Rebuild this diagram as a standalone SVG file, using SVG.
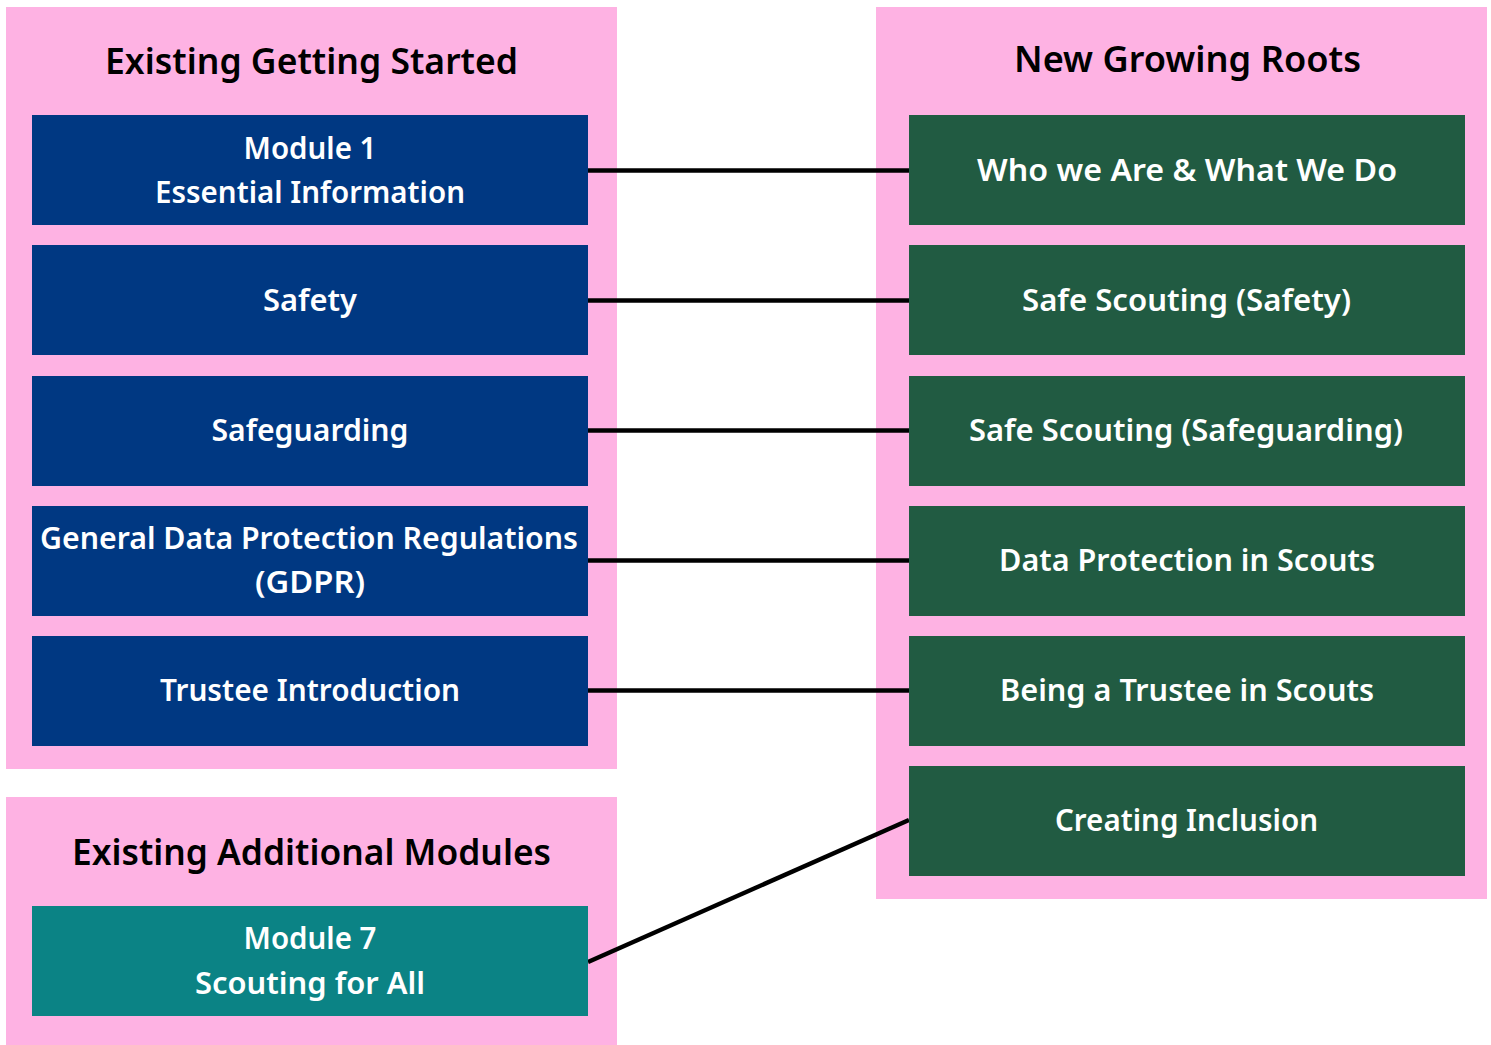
<svg xmlns="http://www.w3.org/2000/svg" width="1491" height="1045" viewBox="0 0 1491 1045">
<style>
.cont{fill:#feb2e3}
.title{font-family:"Noto Sans","Open Sans",sans-serif;font-weight:600;font-size:35.5px;fill:#000;text-anchor:middle}
.lbl{font-family:"Noto Sans","Open Sans",sans-serif;font-weight:600;font-size:30px;fill:#fff;text-anchor:middle}
.blue{fill:#003882}
.green{fill:#215b42}
.teal{fill:#0b8385}
.conn{stroke:#000;stroke-width:4.5;fill:none}
</style>
<rect width="1491" height="1045" fill="#fff"/>
<g id="group-existing-getting-started">
<rect class="cont" x="6" y="7" width="611" height="762"/>
<text class="title" x="311.5" y="74" textLength="413" lengthAdjust="spacingAndGlyphs">Existing Getting Started</text>
</g>
<g id="group-new-growing-roots">
<rect class="cont" x="876" y="7" width="611" height="892"/>
<text class="title" x="1187.5" y="72" textLength="347" lengthAdjust="spacingAndGlyphs">New Growing Roots</text>
</g>
<g id="group-existing-additional">
<rect class="cont" x="6" y="797" width="611" height="248"/>
<text class="title" x="311.5" y="865" textLength="479" lengthAdjust="spacingAndGlyphs">Existing Additional Modules</text>
</g>
<g id="connectors">
<line class="conn" x1="588" y1="170.5" x2="909" y2="170.5"/>
<line class="conn" x1="588" y1="300.5" x2="909" y2="300.5"/>
<line class="conn" x1="588" y1="430.5" x2="909" y2="430.5"/>
<line class="conn" x1="588" y1="560.5" x2="909" y2="560.5"/>
<line class="conn" x1="588" y1="690.5" x2="909" y2="690.5"/>
<line class="conn" x1="588" y1="962" x2="909" y2="820"/>
</g>
<g id="node-module1">
<rect class="blue" x="32" y="115" width="556" height="110"/>
<text class="lbl" x="310" y="159" textLength="133" lengthAdjust="spacingAndGlyphs">Module 1</text>
<text class="lbl" x="310" y="203" textLength="310" lengthAdjust="spacingAndGlyphs">Essential Information</text>
</g>
<g id="node-safety">
<rect class="blue" x="32" y="245" width="556" height="110"/>
<text class="lbl" x="310" y="311" textLength="94" lengthAdjust="spacingAndGlyphs">Safety</text>
</g>
<g id="node-safeguarding">
<rect class="blue" x="32" y="376" width="556" height="110"/>
<text class="lbl" x="310" y="441" textLength="197" lengthAdjust="spacingAndGlyphs">Safeguarding</text>
</g>
<g id="node-gdpr">
<rect class="blue" x="32" y="506" width="556" height="110"/>
<text class="lbl" x="309" y="549" textLength="538" lengthAdjust="spacingAndGlyphs">General Data Protection Regulations</text>
<text class="lbl" x="310" y="593" textLength="110" lengthAdjust="spacingAndGlyphs">(GDPR)</text>
</g>
<g id="node-trustee">
<rect class="blue" x="32" y="636" width="556" height="110"/>
<text class="lbl" x="310" y="701" textLength="300" lengthAdjust="spacingAndGlyphs">Trustee Introduction</text>
</g>
<g id="node-module7">
<rect class="teal" x="32" y="906" width="556" height="110"/>
<text class="lbl" x="310" y="949" textLength="133" lengthAdjust="spacingAndGlyphs">Module 7</text>
<text class="lbl" x="310" y="994" textLength="230" lengthAdjust="spacingAndGlyphs">Scouting for All</text>
</g>
<g id="node-who-we-are">
<rect class="green" x="909" y="115" width="556" height="110"/>
<text class="lbl" x="1187" y="181" textLength="420" lengthAdjust="spacingAndGlyphs">Who we Are &amp; What We Do</text>
</g>
<g id="node-safe-safety">
<rect class="green" x="909" y="245" width="556" height="110"/>
<text class="lbl" x="1186.5" y="311" textLength="329" lengthAdjust="spacingAndGlyphs">Safe Scouting (Safety)</text>
</g>
<g id="node-safe-safeguarding">
<rect class="green" x="909" y="376" width="556" height="110"/>
<text class="lbl" x="1186" y="441" textLength="434" lengthAdjust="spacingAndGlyphs">Safe Scouting (Safeguarding)</text>
</g>
<g id="node-data-protection">
<rect class="green" x="909" y="506" width="556" height="110"/>
<text class="lbl" x="1187" y="571" textLength="376" lengthAdjust="spacingAndGlyphs">Data Protection in Scouts</text>
</g>
<g id="node-trustee-scouts">
<rect class="green" x="909" y="636" width="556" height="110"/>
<text class="lbl" x="1187" y="701" textLength="374" lengthAdjust="spacingAndGlyphs">Being a Trustee in Scouts</text>
</g>
<g id="node-creating-inclusion">
<rect class="green" x="909" y="766" width="556" height="110"/>
<text class="lbl" x="1186.5" y="831" textLength="263" lengthAdjust="spacingAndGlyphs">Creating Inclusion</text>
</g>
</svg>
